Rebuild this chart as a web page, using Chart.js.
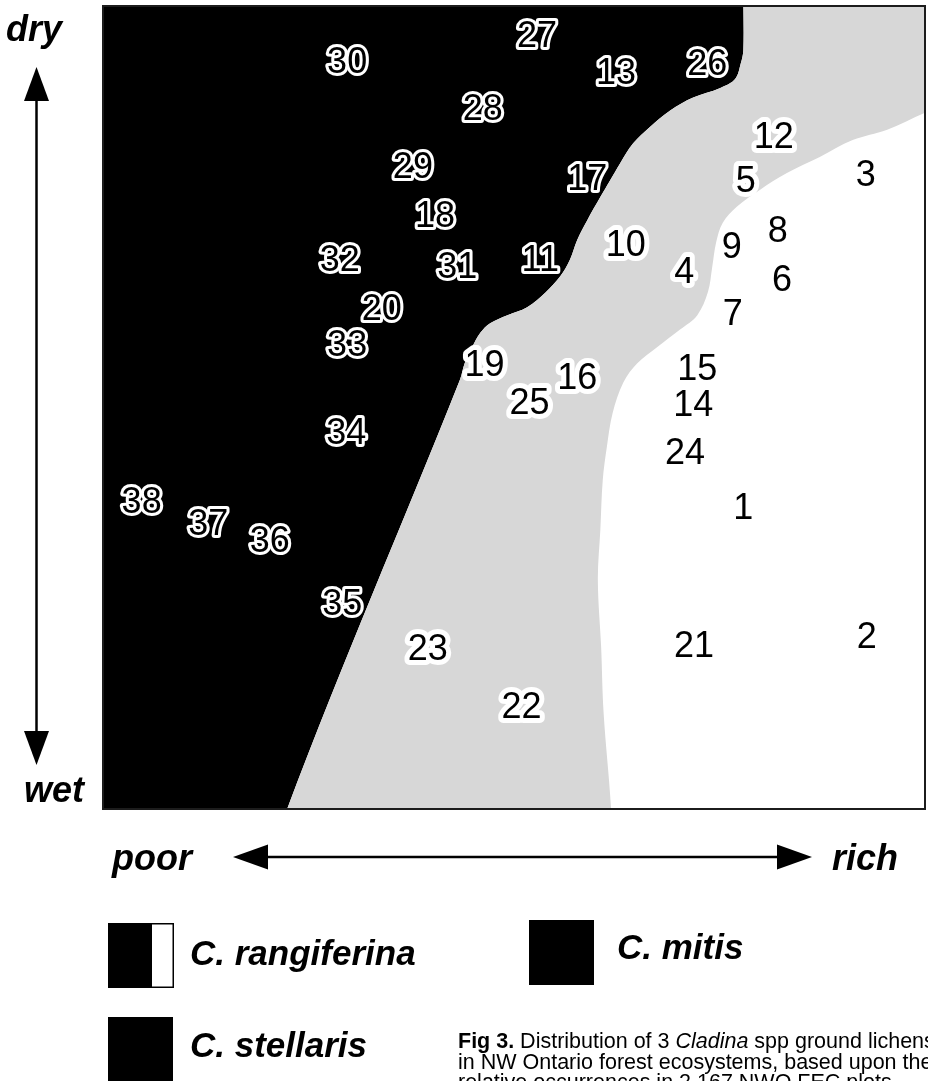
<!DOCTYPE html>
<html>
<head>
<meta charset="utf-8">
<title>Cladina distribution</title>
<script src="https://cdn.jsdelivr.net/npm/chart.js@4.4.1/dist/chart.umd.min.js"></script>
<style>
  html, body { margin: 0; padding: 0; background: #fff; }
  #wrap { width: 928px; height: 1081px; overflow: hidden; }
</style>
</head>
<body>
<div id="wrap"><canvas id="lichenChart" width="928" height="1081"></canvas></div>
<script>
// NWO FEC plot numbers, placed on the nutrient (poor -> rich) and moisture (wet -> dry) axes, 0-100
const plotIds = [1, 2, 3, 4, 5, 6, 7, 8, 9, 10, 11, 12, 13, 14, 15, 16, 17, 18, 19,
                 20, 21, 22, 23, 24, 25, 26, 27, 28, 29, 30, 31, 32, 33, 34, 35, 36, 37, 38];
const richness = [77.9, 92.9, 92.8, 70.7, 78.2, 82.6, 76.6, 82.1, 76.5, 63.6, 53.2, 81.6, 62.4,
                  71.8, 72.3, 57.7, 58.9, 40.4, 46.4, 33.9, 71.9, 50.9, 39.5, 70.8, 51.9, 73.5,
                  52.8, 46.2, 37.7, 29.7, 43.1, 28.8, 29.7, 29.6, 29.1, 20.3, 12.8, 4.7];
const moisture = [37.4, 21.3, 78.8, 66.7, 78.1, 65.8, 61.5, 71.9, 69.9, 70.1, 68.2, 83.6, 91.5,
                  50.2, 54.7, 53.5, 78.3, 73.7, 55.2, 62.1, 20.2, 12.6, 19.8, 44.2, 50.4, 92.7,
                  96.1, 87.0, 79.8, 92.9, 67.4, 68.2, 57.7, 46.7, 25.4, 33.3, 35.4, 38.1];

// edge between the dark (stellaris) zone and the grey (mitis) zone, top to bottom
const stellarisEdgeX = [77.9, 77.9, 77.9, 77.6, 76.9, 75.1, 71.8, 69.0, 66.5, 64.5, 62.9, 61.7, 60.5, 58.9,
                        57.7, 56.8, 55.6, 53.8, 51.6, 49.2, 47.1, 45.9, 44.9, 44.0, 43.4, 22.4, 21.9];
const stellarisEdgeY = [105.7, 101, 94.5, 92.9, 90.9, 89.8, 88.6, 87.0, 84.9, 82.9, 80.4, 78.3, 76.2, 73.3,
                        70.9, 68.4, 66.3, 64.3, 62.5, 61.5, 60.5, 59.3, 57.5, 55.5, 53.4, 0, -5];

// edge between the grey zone and the white (rangiferina) zone, top to bottom
const rangiferinaEdgeX = [101.2, 100, 95.4, 91.2, 87.2, 83.2, 79.9, 77.1, 75.4, 74.6, 74.1, 73.6, 72.3,
                          70.2, 67.4, 65.0, 63.3, 62.0, 61.3, 60.8, 60.5, 60.2, 60.6, 60.9, 61.8, 61.9];
const rangiferinaEdgeY = [87.2, 86.7, 84.6, 83.3, 81.2, 79.2, 77.1, 75.0, 73.0, 70.6, 67.4, 64.4, 61.5,
                          59.7, 57.5, 55.5, 53.1, 49.3, 45.1, 41.0, 34.7, 28.5, 20.2, 12.0, 0.2, -5];

const species = ['C. rangiferina', 'C. mitis', 'C. stellaris'];
const gradientNames = ['dry', 'wet', 'poor', 'rich'];
const captionLines = [
    [['bold', 'Fig 3.'], ['normal', ' Distribution of 3 '], ['italic', 'Cladina'], ['normal', ' spp ground lichens']],
    [['normal', 'in NW Ontario forest ecosystems, based upon their']],
    [['normal', 'relative occurrences in 2 167 NWO FEC plots.']]
];

const FONT = '"Liberation Sans", Arial, Helvetica, sans-serif';

function toPoints(xs, ys) {
    return xs.map((x, i) => ({ x: x, y: ys[i] }));
}

// x of the dark zone edge at a given moisture value
function stellarisEdgeAt(v) {
    for (let i = 0; i < stellarisEdgeY.length - 1; i++) {
        const y0 = stellarisEdgeY[i], y1 = stellarisEdgeY[i + 1];
        if (v <= y0 && v >= y1) {
            const t = (v - y0) / (y1 - y0);
            return stellarisEdgeX[i] + t * (stellarisEdgeX[i + 1] - stellarisEdgeX[i]);
        }
    }
    return 0;
}

function arrowHead(ctx, tipX, tipY, dirX, dirY, len, half) {
    const bx = tipX - dirX * len, by = tipY - dirY * len;
    ctx.beginPath();
    ctx.moveTo(tipX, tipY);
    ctx.lineTo(bx - dirY * half, by + dirX * half);
    ctx.lineTo(bx + dirY * half, by - dirX * half);
    ctx.closePath();
    ctx.fill();
}

const decorPlugin = {
    id: 'decor',
    afterDatasetsDraw(chart) {
        const ctx = chart.ctx;
        const area = chart.chartArea;

        // frame
        ctx.save();
        ctx.strokeStyle = '#1c1c1c';
        ctx.lineWidth = 2;
        ctx.strokeRect(area.left, area.top, area.right - area.left, area.bottom - area.top);
        ctx.restore();

        // plot numbers (white rim in the dark zone, white halo elsewhere)
        const meta = chart.getDatasetMeta(0);
        ctx.save();
        ctx.font = '36px ' + FONT;
        ctx.textAlign = 'center';
        ctx.textBaseline = 'middle';
        ctx.lineJoin = 'round';
        meta.data.forEach((pt, i) => {
            const dark = richness[i] < stellarisEdgeAt(moisture[i]);
            const txt = String(plotIds[i]);
            ctx.strokeStyle = '#fff';
            ctx.lineWidth = dark ? 6 : 10;
            ctx.strokeText(txt, pt.x, pt.y);
            ctx.fillStyle = '#000';
            ctx.fillText(txt, pt.x, pt.y);
        });
        ctx.restore();
    },
    afterDraw(chart) {
        const ctx = chart.ctx;
        ctx.save();
        ctx.fillStyle = '#000';
        ctx.strokeStyle = '#000';

        // moisture arrow
        ctx.lineWidth = 2.5;
        ctx.beginPath();
        ctx.moveTo(36.5, 95);
        ctx.lineTo(36.5, 738);
        ctx.stroke();
        arrowHead(ctx, 36.5, 67, 0, -1, 34, 12.5);
        arrowHead(ctx, 36.5, 765, 0, 1, 34, 12.5);

        // nutrient arrow
        ctx.beginPath();
        ctx.moveTo(262, 857);
        ctx.lineTo(785, 857);
        ctx.stroke();
        arrowHead(ctx, 233, 857, -1, 0, 35, 12.5);
        arrowHead(ctx, 812, 857, 1, 0, 35, 12.5);

        ctx.font = 'italic bold 36px ' + FONT;
        ctx.textAlign = 'left';
        ctx.textBaseline = 'alphabetic';
        ctx.fillText(gradientNames[0], 6, 41);
        ctx.fillText(gradientNames[1], 24, 802);
        ctx.fillText(gradientNames[2], 112, 870);
        ctx.fillText(gradientNames[3], 832, 870);

        // legend
        ctx.fillRect(108, 923, 44, 65);
        ctx.fillStyle = '#fff';
        ctx.fillRect(152, 923, 21, 65);
        ctx.lineWidth = 1.5;
        ctx.strokeRect(108.75, 923.75, 64.5, 63.5);
        ctx.fillStyle = '#000';
        ctx.fillRect(529, 920, 65, 65);
        ctx.fillRect(108, 1017, 65, 70);

        ctx.font = 'italic bold 35px ' + FONT;
        ctx.fillText(species[0], 190, 965);
        ctx.fillText(species[1], 617, 959);
        ctx.fillText(species[2], 190, 1057);

        // caption
        const fonts = {
            bold: 'bold 21.5px ' + FONT,
            normal: '21.5px ' + FONT,
            italic: 'italic 21.5px ' + FONT
        };
        captionLines.forEach((runs, li) => {
            let x = 458;
            const y = 1048 + li * 20.5;
            runs.forEach(([style, text]) => {
                ctx.font = fonts[style];
                ctx.fillText(text, x, y);
                x += ctx.measureText(text).width;
            });
        });
        ctx.restore();
    }
};

const edgeStyle = {
    borderWidth: 0,
    pointRadius: 0,
    pointHoverRadius: 0,
    tension: 0.35
};

const chart = new Chart(document.getElementById('lichenChart'), {
    type: 'line',
    data: {
        datasets: [
            {
                label: 'plots',
                data: toPoints(richness, moisture),
                showLine: false,
                pointRadius: 0,
                fill: false
            },
            Object.assign({
                label: species[0],
                data: toPoints(rangiferinaEdgeX, rangiferinaEdgeY),
                fill: { value: 100 },
                backgroundColor: '#ffffff'
            }, edgeStyle),
            Object.assign({
                label: species[1],
                data: toPoints(stellarisEdgeX, stellarisEdgeY),
                fill: { value: 100 },
                backgroundColor: '#d7d7d7'
            }, edgeStyle),
            Object.assign({
                label: species[2],
                data: toPoints(stellarisEdgeX, stellarisEdgeY),
                fill: { value: 0 },
                backgroundColor: '#000000'
            }, edgeStyle)
        ]
    },
    options: {
        responsive: false,
        animation: false,
        indexAxis: 'y',
        layout: { padding: { left: 103, top: 6, right: 3, bottom: 272 } },
        elements: { line: { capBezierPoints: false } },
        scales: {
            x: { type: 'linear', min: 0, max: 100, display: false },
            y: { type: 'linear', min: 0, max: 100, display: false }
        },
        plugins: {
            legend: { display: false },
            tooltip: { enabled: false }
        }
    },
    plugins: [decorPlugin]
});
</script>
</body>
</html>
